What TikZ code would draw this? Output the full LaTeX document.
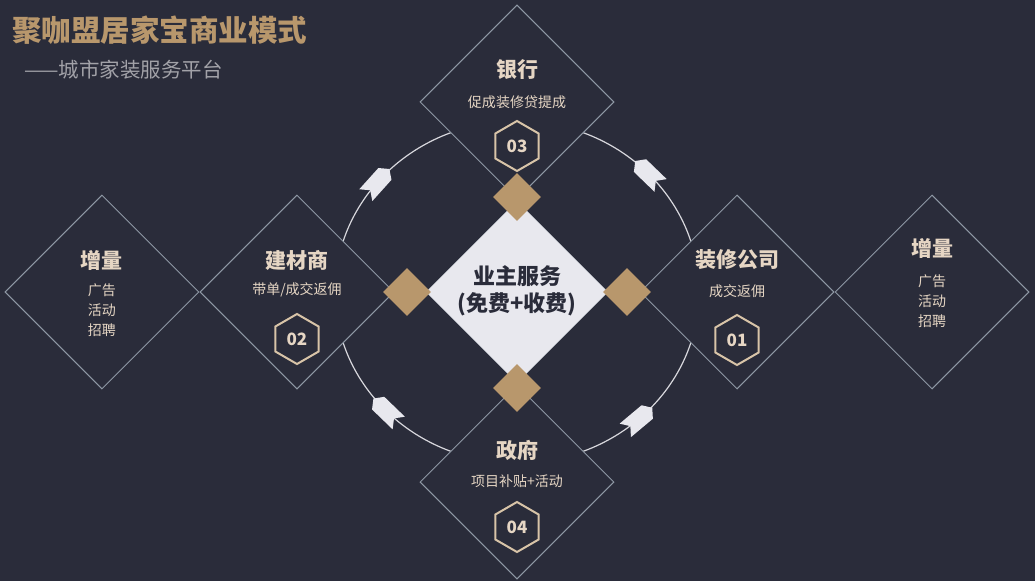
\documentclass[tikz,border=0pt]{standalone}
\usepackage{fontspec}
\setmainfont{Noto Sans CJK SC}
\usetikzlibrary{shapes.geometric}
\definecolor{bgdark}{HTML}{2A2C3A}
\definecolor{gold}{HTML}{B8976C}
\definecolor{beige}{HTML}{E6D6C4}
\definecolor{hexline}{HTML}{D8C4A8}
\definecolor{lineblue}{HTML}{8E98A4}
\definecolor{paleface}{HTML}{E8E8EE}
\definecolor{subgray}{HTML}{A2A2A8}
\tikzset{
  bigdiam/.style={diamond, draw=lineblue, line width=1pt, fill=bgdark, minimum size=194pt, inner sep=0pt},
  golddiam/.style={diamond, fill=gold, minimum size=48pt, inner sep=0pt},
  hexno/.style={regular polygon, regular polygon sides=6, regular polygon rotate=30, draw=hexline, line width=2pt, minimum size=50pt, inner sep=0pt, text=beige, font=\fontsize{17}{17}\selectfont\bfseries},
  headtxt/.style={text=beige, font=\fontsize{21}{21}\selectfont\bfseries},
  subtxt/.style={text=beige, font=\fontsize{14}{14}\selectfont}
}
\begin{document}
\begin{tikzpicture}[x=1pt, y=1pt]
 % 背景
 \fill[bgdark] (-517,-289) rectangle (518,292);
 % 标题
 \node[anchor=west, text=gold, font=\fontsize{29.5}{29.5}\selectfont\bfseries, inner sep=0pt] (title) at (-505,262) {聚咖盟居家宝商业模式};
 \node[anchor=west, text=subgray, font=\fontsize{20.5}{20.5}\selectfont, inner sep=0pt] (subtitle) at (-493,222) {——城市家装服务平台};
 % 环线与箭头
 \draw[paleface!85!gray, line width=1.2pt] (0,0) ellipse [x radius=182pt, y radius=171pt];
 \foreach \t/\r in {140/48, 44/136, 224/136, 312/40}
  \fill[paleface, shift={({182*cos(\t)},{171*sin(\t)})}, rotate=\r, scale=1.1] (-16,-8) -- (10,-8) -- (16,0) -- (10,8) -- (-16,8) -- (-10,0) -- cycle;
 % 外围菱形
 \node[bigdiam] (bank) at (0,190) {};
 \node[bigdiam] (gov) at (0,-190) {};
 \node[bigdiam] (material) at (-220,0) {};
 \node[bigdiam] (deco) at (220,0) {};
 \node[bigdiam] (addL) at (-415,0) {};
 \node[bigdiam] (addR) at (415,0) {};
 % 中心菱形
 \node[diamond, fill=paleface, draw=lineblue!60, minimum size=182pt, inner sep=0pt] (owner) at (0,0) {};
 \node[text=bgdark, align=center, font=\fontsize{22}{27}\selectfont\bfseries] (ownertxt) at (0,1) {业主服务\\(免费+收费)};
 \node[golddiam] (gTop) at (0,95) {};
 \node[golddiam] (gBot) at (0,-96) {};
 \node[golddiam] (gLeft) at (-110,0) {};
 \node[golddiam] (gRight) at (110,0) {};
 % 银行
 \node[headtxt] (bankT) at ([yshift=32]bank.center) {银行};
 \node[subtxt] (bankS) at ([yshift=0]bank.center) {促成装修贷提成};
 \node[hexno] (hex3) at ([yshift=-44]bank.center) {03};
 % 建材商
 \node[headtxt] (matT) at ([yshift=32]material.center) {建材商};
 \node[subtxt] (matS) at ([yshift=2]material.center) {带单/成交返佣};
 \node[hexno] (hex2) at ([yshift=-47]material.center) {02};
 % 装修公司
 \node[headtxt] (decoT) at ([yshift=32]deco.center) {装修公司};
 \node[subtxt] (decoS) at ([yshift=1]deco.center) {成交返佣};
 \node[hexno] (hex1) at ([yshift=-48]deco.center) {01};
 % 政府
 \node[headtxt] (govT) at ([yshift=32]gov.center) {政府};
 \node[subtxt] (govS) at ([yshift=1]gov.center) {项目补贴+活动};
 \node[hexno] (hex4) at ([yshift=-45]gov.center) {04};
 % 增量
 \node[headtxt] (addLT) at ([yshift=32]addL.center) {增量};
 \node[subtxt, align=center, font=\fontsize{14}{20}\selectfont] (addLS) at ([yshift=-18]addL.center) {广告\\活动\\招聘};
 \node[headtxt] (addRT) at ([yshift=44]addR.center) {增量};
 \node[subtxt, align=center, font=\fontsize{14}{20}\selectfont] (addRS) at ([yshift=-9]addR.center) {广告\\活动\\招聘};
\end{tikzpicture}
\end{document}
